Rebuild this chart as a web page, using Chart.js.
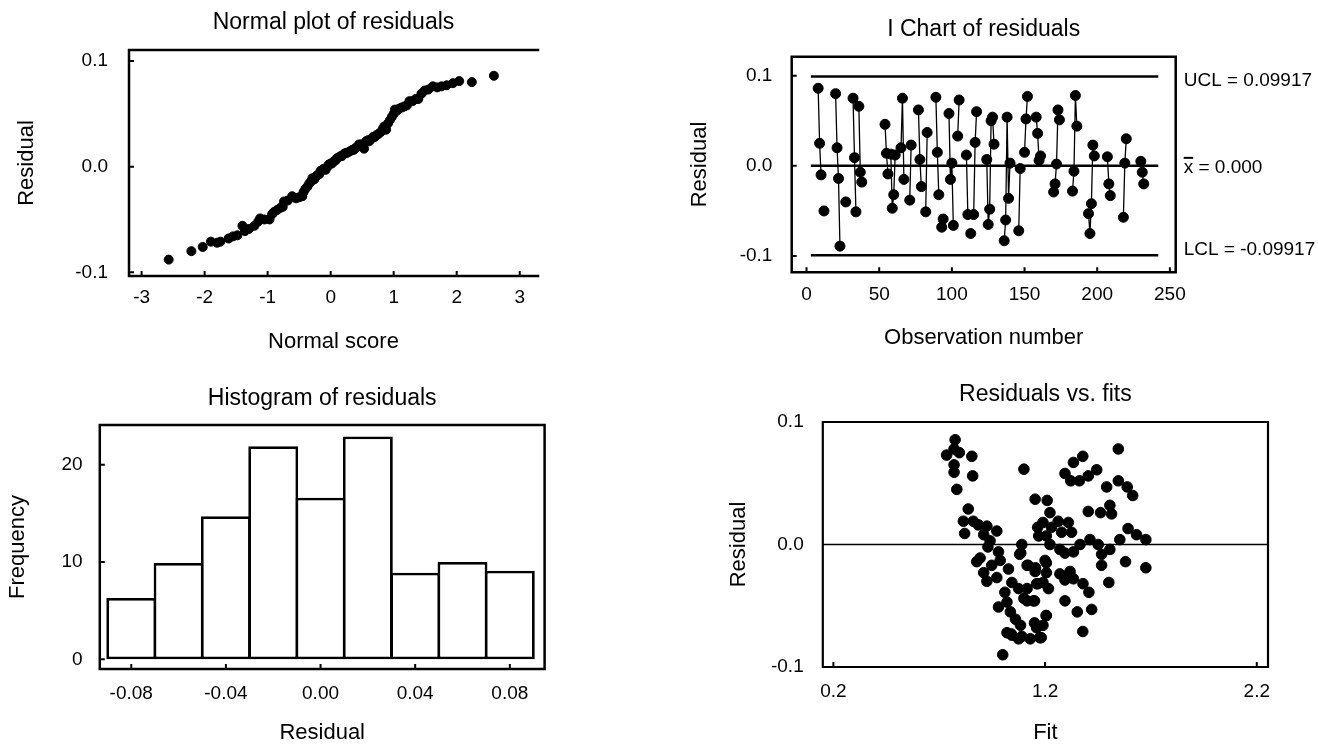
<!DOCTYPE html>
<html>
<head>
<meta charset="utf-8">
<script src="https://cdn.jsdelivr.net/npm/chart.js@4.4.1/dist/chart.umd.min.js"></script>
<style>
html, body { margin: 0; padding: 0; background: #fff; }
body { width: 1318px; height: 745px; position: relative; overflow: hidden; }
.panel { position: absolute; }
.panel canvas { display: block; }
</style>
</head>
<body>
<div class="panel" style="left:0;top:0"><canvas id="normalPlot" width="659" height="372"></canvas></div>
<div class="panel" style="left:659px;top:0"><canvas id="iChart" width="659" height="372"></canvas></div>
<div class="panel" style="left:0;top:372px"><canvas id="histogram" width="659" height="373"></canvas></div>
<div class="panel" style="left:659px;top:372px"><canvas id="residFits" width="659" height="373"></canvas></div>
<script>
// normal probability plot
const normScores = [-2.57,-2.21,-2.03,-1.90,-1.80,-1.75,-1.62,-1.55,-1.48,-1.40,-1.36,-1.30,-1.21,-1.15,-1.12,-1.05,-0.97,-0.93,-0.90,-0.85,-0.80,-0.76,-0.74,-0.68,-0.61,-0.55,-0.50,-0.45,-0.43,-0.40,-0.37,-0.34,-0.31,-0.29,-0.26,-0.23,-0.21,-0.18,-0.16,-0.13,-0.11,-0.08,-0.05,-0.03,0.00,0.02,0.05,0.08,0.10,0.13,0.16,0.18,0.21,0.24,0.26,0.29,0.32,0.35,0.37,0.40,0.43,0.45,0.48,0.51,0.53,0.56,0.59,0.61,0.64,0.67,0.70,0.73,0.76,0.80,0.83,0.85,0.88,0.91,0.94,0.97,1.00,1.02,1.05,1.09,1.13,1.17,1.21,1.25,1.30,1.35,1.39,1.44,1.49,1.55,1.62,1.69,1.76,1.84,1.94,2.04,2.24,2.59];
const normResiduals = [-0.088,-0.080,-0.076,-0.071,-0.072,-0.071,-0.068,-0.066,-0.065,-0.056,-0.061,-0.059,-0.056,-0.052,-0.049,-0.050,-0.050,-0.045,-0.043,-0.041,-0.039,-0.038,-0.033,-0.032,-0.028,-0.030,-0.029,-0.028,-0.024,-0.021,-0.019,-0.016,-0.014,-0.011,-0.012,-0.009,-0.008,-0.007,-0.004,-0.003,-0.002,-0.003,0.000,0.002,0.003,0.003,0.005,0.006,0.008,0.009,0.010,0.010,0.012,0.013,0.013,0.014,0.015,0.016,0.016,0.018,0.019,0.021,0.021,0.019,0.017,0.024,0.025,0.024,0.026,0.028,0.028,0.030,0.031,0.033,0.036,0.038,0.035,0.041,0.044,0.047,0.050,0.054,0.053,0.055,0.056,0.057,0.058,0.062,0.062,0.064,0.064,0.069,0.072,0.073,0.076,0.075,0.076,0.077,0.079,0.081,0.080,0.086];

// I chart (observation number, residual)
const iObs = [8,9,10,12,20,21,22,23,27,32,33,34,36,37,38,54,55,56,58,59,60,61,65,66,67,71,72,77,78,79,82,83,89,90,91,93,94,98,99,100,101,104,105,110,111,113,115,116,117,124,125,126,127,128,129,136,137,138,139,140,146,147,150,151,152,158,159,160,161,170,171,172,173,174,183,184,185,186,194,195,196,197,198,207,208,209,218,219,220,230,231,232];
const iResid = [0.086,0.025,-0.010,-0.050,0.080,0.020,-0.014,-0.089,-0.040,0.075,0.009,-0.051,0.066,-0.007,-0.018,0.046,0.014,-0.009,0.013,-0.047,-0.032,0.012,0.020,0.075,-0.015,-0.038,0.023,0.062,0.007,-0.023,-0.051,0.037,0.076,0.015,-0.032,-0.068,-0.059,0.058,-0.015,0.003,-0.066,0.033,0.073,0.012,-0.054,-0.075,-0.054,0.026,0.060,0.007,-0.065,-0.048,0.050,0.054,0.024,-0.083,-0.060,0.054,-0.036,0.003,-0.072,-0.003,0.015,0.052,0.077,0.054,0.036,0.006,0.011,-0.029,-0.020,0.002,0.062,0.051,-0.028,-0.006,0.078,0.044,-0.053,-0.075,-0.042,0.023,0.011,0.010,-0.020,-0.033,-0.057,0.003,0.030,0.005,-0.007,-0.020];
const ucl = 0.09917, xbar = 0.000, lcl = -0.09917;
const limitStart = 3, limitEnd = 242;

// histogram
const histCenters = [-0.08,-0.06,-0.04,-0.02,0.00,0.02,0.04,0.06,0.08];
const histFreq = [6.3,9.9,14.7,21.9,16.6,22.9,8.9,10.0,9.1];

// residuals vs fits
const fitValues = [0.775,0.735,0.795,0.770,0.770,0.770,0.854,0.858,0.783,1.100,0.837,0.814,0.861,0.820,0.885,0.925,0.972,0.910,0.940,0.930,0.980,1.090,1.080,0.877,0.893,0.910,0.948,0.988,0.925,0.972,1.027,1.043,1.115,1.155,1.010,1.075,1.115,1.160,1.100,1.150,1.020,0.980,1.036,1.060,1.150,1.084,1.160,1.020,1.075,1.130,1.177,1.043,1.000,
  1.546,1.378,1.334,1.294,1.321,1.362,1.404,1.444,1.491,1.546,1.588,1.614,1.210,1.223,1.404,1.462,1.506,1.514,1.190,1.262,1.310,1.230,1.278,1.325,1.206,1.592,1.632,1.676,1.553,1.412,1.365,1.451,1.223,1.270,1.294,1.334,1.506,1.467,1.206,1.467,1.580,1.676,1.206,1.270,1.318,1.334,1.294,1.190,1.216,1.379,1.407,1.501,1.294,1.352,1.420,1.206,1.190,1.182,1.378,
  1.153,1.165,1.170,1.200,1.153,1.165,1.145,1.205,1.175,1.090,1.040,1.115,1.120,1.085];
const fitResiduals = [0.0855,0.073,0.075,0.078,0.065,0.059,0.072,0.056,0.045,0.0615,0.029,0.019,0.019,0.009,0.016,0.015,0.011,0.008,0.003,-0.002,-0.006,0.000,-0.008,-0.014,-0.011,-0.023,-0.017,-0.013,-0.030,-0.027,-0.020,-0.031,-0.017,-0.019,-0.039,-0.036,-0.036,-0.032,-0.044,-0.046,-0.047,-0.051,-0.055,-0.061,-0.064,-0.066,-0.068,-0.072,-0.077,-0.077,-0.076,-0.074,-0.090,
  0.078,0.072,0.067,0.058,0.052,0.052,0.056,0.061,0.047,0.052,0.047,0.040,0.036,0.026,0.027,0.026,0.032,0.025,0.018,0.019,0.018,0.014,0.010,0.010,0.007,0.013,0.008,0.004,0.004,0.004,0.000,0.000,0.000,-0.004,-0.007,-0.006,-0.004,-0.008,-0.015,-0.017,-0.014,-0.019,-0.023,-0.024,-0.022,-0.028,-0.029,-0.031,-0.036,-0.032,-0.039,-0.031,-0.046,-0.055,-0.053,-0.058,-0.066,-0.076,-0.071,
  0.037,0.014,0.007,-0.013,-0.022,-0.032,-0.046,-0.058,-0.076,-0.075,-0.073,-0.046,-0.017,-0.007];

const FONT = "'Liberation Sans', Arial, Helvetica, sans-serif";
Chart.defaults.font.family = FONT;
Chart.defaults.color = '#000';
Chart.defaults.animation = false;

function pairs(xs, ys) {
	return xs.map((x, i) => ({ x: x, y: ys[i] }));
}

// box lines and small inward tick marks
const framePlugin = {
	id: 'frame',
	afterDatasetsDraw(chart, args, opts) {
		const ctx = chart.ctx, a = chart.chartArea;
		ctx.save();
		ctx.strokeStyle = '#000';
		ctx.lineWidth = opts.width || 2.5;
		ctx.lineCap = 'square';
		ctx.beginPath();
		const sides = opts.sides || ['left', 'top', 'right', 'bottom'];
		if (sides.includes('left')) { ctx.moveTo(a.left, a.top); ctx.lineTo(a.left, a.bottom); }
		if (sides.includes('top')) { ctx.moveTo(a.left, a.top); ctx.lineTo(a.right, a.top); }
		if (sides.includes('right')) { ctx.moveTo(a.right, a.top); ctx.lineTo(a.right, a.bottom); }
		if (sides.includes('bottom')) { ctx.moveTo(a.left, a.bottom); ctx.lineTo(a.right, a.bottom); }
		ctx.stroke();
		ctx.lineWidth = 2;
		ctx.lineCap = 'butt';
		ctx.beginPath();
		if (opts.xTicks) {
			chart.scales.x.ticks.forEach(t => {
				const px = chart.scales.x.getPixelForValue(t.value);
				ctx.moveTo(px, a.bottom); ctx.lineTo(px, a.bottom - 5);
			});
		}
		if (opts.yTicks) {
			chart.scales.y.ticks.forEach(t => {
				const py = chart.scales.y.getPixelForValue(t.value);
				ctx.moveTo(a.left, py); ctx.lineTo(a.left + 5, py);
			});
		}
		ctx.stroke();
		ctx.restore();
	}
};

// UCL / mean / LCL text at the right of the I chart
const limitLabels = {
	id: 'limitLabels',
	afterDraw(chart) {
		const ctx = chart.ctx, a = chart.chartArea, y = chart.scales.y;
		const x = a.right + 8;
		ctx.save();
		ctx.font = '19px ' + FONT;
		ctx.fillStyle = '#000';
		ctx.textAlign = 'left';
		ctx.textBaseline = 'middle';
		ctx.fillText('UCL = ' + ucl.toFixed(5), x, y.getPixelForValue(ucl) + 4);
		const ym = y.getPixelForValue(xbar) + 2;
		ctx.fillText('x = ' + xbar.toFixed(3), x, ym);
		const xw = ctx.measureText('x').width;
		ctx.strokeStyle = '#000';
		ctx.lineWidth = 2;
		ctx.beginPath();
		ctx.moveTo(x, ym - 10); ctx.lineTo(x + xw, ym - 10);
		ctx.stroke();
		ctx.fillText('LCL = ' + lcl.toFixed(5), x, y.getPixelForValue(lcl) - 6);
		ctx.restore();
	}
};

function axis(o) {
	return {
		type: 'linear',
		min: o.min,
		max: o.max,
		offset: false,
		grid: { display: false, drawTicks: false, offset: false },
		border: { display: false },
		afterBuildTicks: s => { s.ticks = o.ticks.map(v => ({ value: v })); },
		afterFit: s => { if (s.isHorizontal()) s.height = o.size; else s.width = o.size; },
		ticks: {
			padding: o.pad,
			autoSkip: false,
			maxRotation: 0,
			color: '#000',
			font: { size: 19 },
			callback: v => o.fmt(v)
		},
		title: {
			display: true,
			text: o.title,
			color: '#000',
			font: { size: 22, lineHeight: 1 },
			padding: o.titlePad
		}
	};
}

function baseOptions(o) {
	return {
		responsive: false,
		animation: false,
		layout: { padding: o.padding },
		plugins: {
			legend: { display: false },
			tooltip: { enabled: false },
			title: {
				display: true,
				text: o.title,
				fullSize: false,
				color: '#000',
				font: { size: 23, weight: 'normal', lineHeight: 1 },
				padding: o.titlePad
			},
			frame: o.frame
		},
		scales: { x: axis(o.x), y: axis(o.y) }
	};
}

new Chart(document.getElementById('normalPlot'), {
	type: 'scatter',
	data: { datasets: [{
		data: pairs(normScores, normResiduals),
		pointRadius: 4.5, pointBorderWidth: 1,
		backgroundColor: '#000', borderColor: '#000'
	}] },
	options: baseOptions({
		title: 'Normal plot of residuals',
		titlePad: { top: 11.5, bottom: 15.5 },
		padding: { left: 0, right: 121, top: 0, bottom: 0 },
		frame: { sides: ['left', 'top', 'bottom'], xTicks: true, yTicks: true },
		x: { min: -3.2, max: 3.29, ticks: [-3, -2, -1, 0, 1, 2, 3], fmt: v => String(v), size: 96, pad: 10.3, title: 'Normal score', titlePad: { top: 0, bottom: 19 } },
		y: { min: -0.1035, max: 0.1104, ticks: [-0.1, 0, 0.1], fmt: v => v.toFixed(1), size: 129, pad: 21, title: 'Residual', titlePad: { top: 16, bottom: 0 } }
	}),
	plugins: [framePlugin]
});

var iPoints = [];
iObs.forEach((o, i) => {
	if (i > 0 && o - iObs[i - 1] > 1) iPoints.push({ x: o - 0.5, y: null });
	iPoints.push({ x: o, y: iResid[i] });
});
function limitLine(v) {
	return {
		data: [{ x: limitStart, y: v }, { x: limitEnd, y: v }],
		showLine: true, borderColor: '#000', borderWidth: 2.5, pointRadius: 0
	};
}

new Chart(document.getElementById('iChart'), {
	type: 'scatter',
	data: { datasets: [
		limitLine(ucl), limitLine(xbar), limitLine(lcl),
		{
			data: iPoints,
			showLine: true, spanGaps: false,
			borderColor: '#000', borderWidth: 1.3,
			pointRadius: 5, pointBorderWidth: 1,
			backgroundColor: '#000', pointBackgroundColor: '#000'
		}
	] },
	options: baseOptions({
		title: 'I Chart of residuals',
		titlePad: { top: 18.5, bottom: 15.2 },
		padding: { left: 0, right: 142.3, top: 0, bottom: 0 },
		frame: { xTicks: true, yTicks: true },
		x: { min: -10.2, max: 254, ticks: [0, 50, 100, 150, 200, 250], fmt: v => String(v), size: 99.7, pad: 11.3, title: 'Observation number', titlePad: { top: 0, bottom: 23 } },
		y: { min: -0.118, max: 0.121, ticks: [-0.1, 0, 0.1], fmt: v => v.toFixed(1), size: 132.7, pad: 19.3, title: 'Residual', titlePad: { top: 29.9, bottom: 0 } }
	}),
	plugins: [framePlugin, limitLabels]
});

// bars slightly wider than the bin so neighbouring edges share one line
new Chart(document.getElementById('histogram'), {
	type: 'bar',
	data: { datasets: [{
		data: pairs(histCenters, histFreq),
		backgroundColor: '#fff', borderColor: '#000', borderWidth: 2.8,
		borderSkipped: false, barPercentage: 1.055, categoryPercentage: 1, inflateAmount: 0
	}] },
	options: baseOptions({
		title: 'Histogram of residuals',
		titlePad: { top: 15.5, bottom: 14.5 },
		padding: { left: 0, right: 114.4, top: 0, bottom: 0 },
		frame: { xTicks: true, yTicks: true },
		x: { min: -0.0933, max: 0.0947, ticks: [-0.08, -0.04, 0, 0.04, 0.08], fmt: v => v.toFixed(2), size: 76, pad: 12.9, title: 'Residual', titlePad: { top: 0, bottom: 0.7 } },
		y: { min: -1, max: 24.08, ticks: [0, 10, 20], fmt: v => String(v), size: 99.8, pad: 17.2, title: 'Frequency', titlePad: { top: 7, bottom: 0 } }
	}),
	plugins: [framePlugin]
});

new Chart(document.getElementById('residFits'), {
	type: 'scatter',
	data: { datasets: [
		{
			data: [{ x: 0.15, y: 0 }, { x: 2.253, y: 0 }],
			showLine: true, borderColor: '#000', borderWidth: 1.5, pointRadius: 0
		},
		{
			data: pairs(fitValues, fitResiduals),
			pointRadius: 5.3, pointBorderWidth: 1,
			backgroundColor: '#000', borderColor: '#000'
		}
	] },
	options: baseOptions({
		title: 'Residuals vs. fits',
		titlePad: { top: 11.5, bottom: 15.5 },
		padding: { left: 0, right: 50, top: 0, bottom: 0 },
		frame: { xTicks: true, yTicks: false, width: 2.2 },
		x: { min: 0.15, max: 2.253, ticks: [0.2, 1.2, 2.2], fmt: v => v.toFixed(1), size: 78, pad: 13.3, title: 'Fit', titlePad: { top: 0, bottom: 1 } },
		y: { min: -0.1, max: 0.1, ticks: [-0.1, 0, 0.1], fmt: v => v.toFixed(1), size: 163.8, pad: 19.1, title: 'Residual', titlePad: { top: 68.8, bottom: 0 } }
	}),
	plugins: [framePlugin]
});
</script>
</body>
</html>
